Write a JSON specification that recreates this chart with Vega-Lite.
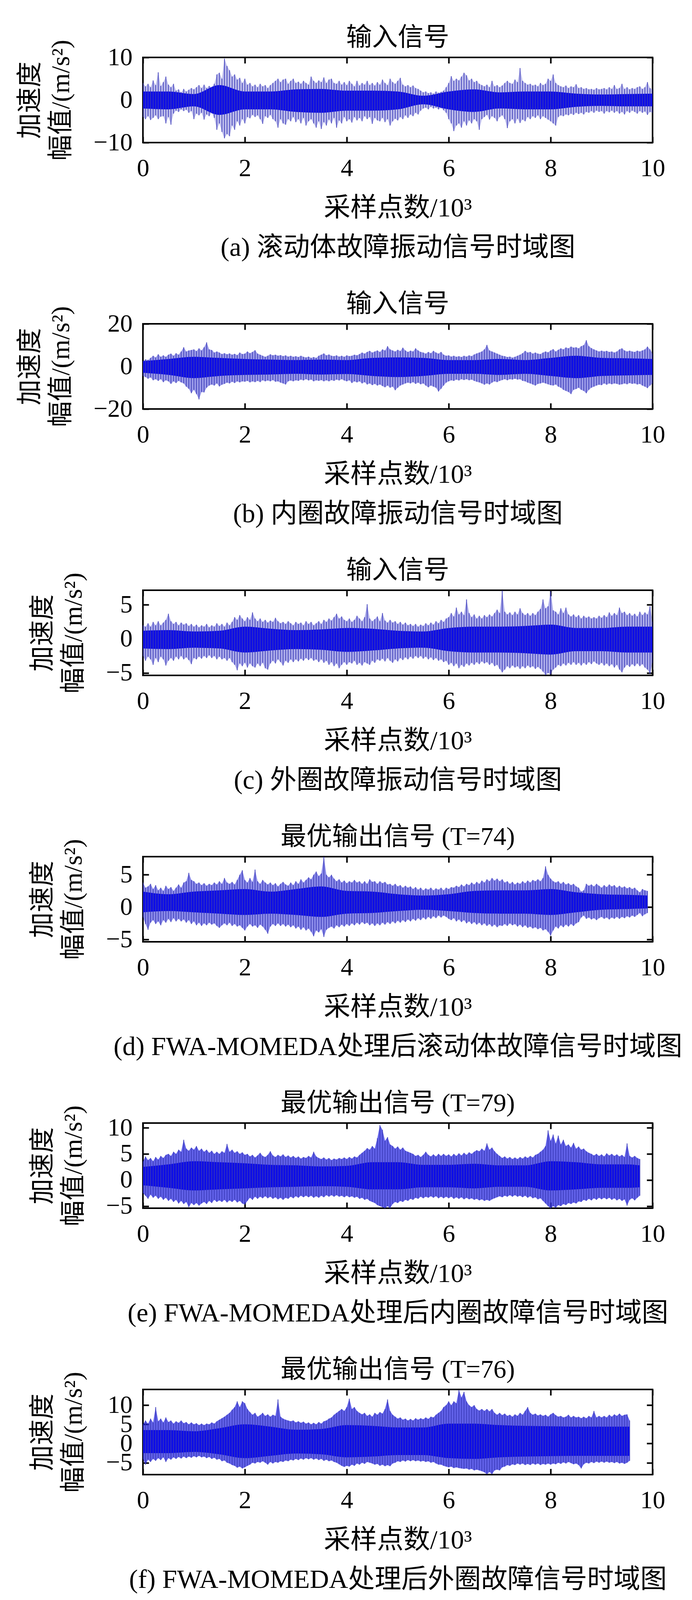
{
"$schema":"https://vega.github.io/schema/vega-lite/v6.json",
"padding":{"left":42,"top":62,"right":10,"bottom":0},
"spacing":74,
"datasets":{
"ea":[{"x":0.00,"a":-4.0,"b":4.0},{"x":0.05,"a":-4.5,"b":3.2},{"x":0.10,"a":-3.8,"b":3.8},{"x":0.15,"a":-4.7,"b":3.0},{"x":0.20,"a":-4.2,"b":4.6},{"x":0.25,"a":-3.6,"b":3.5},{"x":0.30,"a":-4.5,"b":6.5},{"x":0.35,"a":-3.9,"b":3.3},{"x":0.40,"a":-3.8,"b":4.2},{"x":0.45,"a":-5.5,"b":5.5},
{"x":0.50,"a":-4.0,"b":3.6},{"x":0.55,"a":-5.8,"b":3.0},{"x":0.60,"a":-3.2,"b":3.8},{"x":0.65,"a":-2.5,"b":2.2},{"x":0.70,"a":-2.8,"b":2.5},{"x":0.75,"a":-2.2,"b":1.8},{"x":0.80,"a":-2.6,"b":2.6},{"x":0.85,"a":-2.3,"b":2.0},{"x":0.90,"a":-3.0,"b":2.4},{"x":0.95,"a":-2.6,"b":2.8},
{"x":1.00,"a":-4.5,"b":2.5},{"x":1.05,"a":-3.2,"b":3.0},{"x":1.10,"a":-3.6,"b":3.5},{"x":1.15,"a":-3.0,"b":2.8},{"x":1.20,"a":-4.6,"b":3.6},{"x":1.25,"a":-3.4,"b":2.8},{"x":1.30,"a":-3.8,"b":3.3},{"x":1.35,"a":-3.0,"b":3.0},{"x":1.40,"a":-4.2,"b":3.8},{"x":1.45,"a":-7.0,"b":6.0},
{"x":1.50,"a":-5.5,"b":6.4},{"x":1.55,"a":-7.5,"b":5.0},{"x":1.60,"a":-9.0,"b":9.7},{"x":1.65,"a":-8.0,"b":8.0},{"x":1.70,"a":-8.5,"b":7.0},{"x":1.75,"a":-6.0,"b":5.5},{"x":1.80,"a":-7.0,"b":6.0},{"x":1.85,"a":-5.0,"b":4.8},{"x":1.90,"a":-6.0,"b":5.2},{"x":1.95,"a":-4.5,"b":4.0},
{"x":2.00,"a":-5.5,"b":5.0},{"x":2.05,"a":-4.0,"b":3.6},{"x":2.10,"a":-4.3,"b":4.0},{"x":2.15,"a":-3.5,"b":3.2},{"x":2.20,"a":-4.0,"b":3.6},{"x":2.25,"a":-3.6,"b":3.0},{"x":2.30,"a":-4.5,"b":3.8},{"x":2.35,"a":-5.6,"b":3.2},{"x":2.40,"a":-3.8,"b":3.5},{"x":2.45,"a":-4.2,"b":2.8},
{"x":2.50,"a":-3.5,"b":3.5},{"x":2.55,"a":-4.5,"b":4.0},{"x":2.60,"a":-5.0,"b":4.5},{"x":2.65,"a":-6.5,"b":5.0},{"x":2.70,"a":-4.5,"b":4.2},{"x":2.75,"a":-5.5,"b":4.8},{"x":2.80,"a":-5.8,"b":5.0},{"x":2.85,"a":-4.5,"b":3.8},{"x":2.90,"a":-5.0,"b":4.5},{"x":2.95,"a":-4.0,"b":5.0},
{"x":3.00,"a":-5.2,"b":4.0},{"x":3.05,"a":-4.5,"b":4.3},{"x":3.10,"a":-5.5,"b":3.8},{"x":3.15,"a":-4.2,"b":4.5},{"x":3.20,"a":-6.0,"b":4.0},{"x":3.25,"a":-5.0,"b":3.6},{"x":3.30,"a":-4.5,"b":5.5},{"x":3.35,"a":-5.5,"b":4.5},{"x":3.40,"a":-6.5,"b":4.0},{"x":3.45,"a":-5.0,"b":4.6},
{"x":3.50,"a":-6.8,"b":4.2},{"x":3.55,"a":-5.2,"b":5.3},{"x":3.60,"a":-6.0,"b":4.0},{"x":3.65,"a":-4.6,"b":4.8},{"x":3.70,"a":-5.5,"b":5.0},{"x":3.75,"a":-4.2,"b":4.0},{"x":3.80,"a":-6.5,"b":3.8},{"x":3.85,"a":-4.8,"b":4.5},{"x":3.90,"a":-5.5,"b":3.6},{"x":3.95,"a":-4.0,"b":4.2},
{"x":4.00,"a":-5.0,"b":3.5},{"x":4.05,"a":-4.5,"b":4.5},{"x":4.10,"a":-5.3,"b":3.8},{"x":4.15,"a":-4.0,"b":3.2},{"x":4.20,"a":-4.8,"b":4.5},{"x":4.25,"a":-4.2,"b":3.4},{"x":4.30,"a":-5.0,"b":4.0},{"x":4.35,"a":-3.8,"b":3.6},{"x":4.40,"a":-4.5,"b":4.5},{"x":4.45,"a":-4.0,"b":3.5},
{"x":4.50,"a":-5.6,"b":4.0},{"x":4.55,"a":-4.2,"b":3.4},{"x":4.60,"a":-4.8,"b":4.2},{"x":4.65,"a":-5.0,"b":3.6},{"x":4.70,"a":-4.2,"b":4.8},{"x":4.75,"a":-5.2,"b":4.0},{"x":4.80,"a":-4.5,"b":3.5},{"x":4.85,"a":-6.0,"b":5.0},{"x":4.90,"a":-5.0,"b":4.2},{"x":4.95,"a":-4.4,"b":3.8},
{"x":5.00,"a":-4.8,"b":4.5},{"x":5.05,"a":-4.0,"b":5.2},{"x":5.10,"a":-4.5,"b":3.6},{"x":5.15,"a":-3.6,"b":3.2},{"x":5.20,"a":-4.2,"b":3.5},{"x":5.25,"a":-3.4,"b":3.0},{"x":5.30,"a":-3.8,"b":3.4},{"x":5.35,"a":-3.0,"b":2.8},{"x":5.40,"a":-3.4,"b":2.6},{"x":5.45,"a":-2.5,"b":2.2},
{"x":5.50,"a":-2.0,"b":1.8},{"x":5.55,"a":-1.8,"b":2.0},{"x":5.60,"a":-2.2,"b":1.6},{"x":5.65,"a":-1.6,"b":1.8},{"x":5.70,"a":-2.0,"b":1.5},{"x":5.75,"a":-1.8,"b":2.0},{"x":5.80,"a":-2.2,"b":1.7},{"x":5.85,"a":-1.9,"b":1.9},{"x":5.90,"a":-2.4,"b":2.2},{"x":5.95,"a":-3.0,"b":3.0},
{"x":6.00,"a":-4.5,"b":4.0},{"x":6.05,"a":-5.5,"b":5.6},{"x":6.10,"a":-7.3,"b":4.5},{"x":6.15,"a":-6.0,"b":5.0},{"x":6.20,"a":-5.5,"b":4.6},{"x":6.25,"a":-6.5,"b":5.5},{"x":6.30,"a":-5.0,"b":6.4},{"x":6.35,"a":-6.0,"b":5.8},{"x":6.40,"a":-4.8,"b":4.6},{"x":6.45,"a":-5.5,"b":5.0},
{"x":6.50,"a":-4.5,"b":4.2},{"x":6.55,"a":-5.0,"b":4.5},{"x":6.60,"a":-7.0,"b":3.8},{"x":6.65,"a":-4.5,"b":3.5},{"x":6.70,"a":-4.0,"b":3.2},{"x":6.75,"a":-3.5,"b":3.6},{"x":6.80,"a":-4.6,"b":3.0},{"x":6.85,"a":-3.8,"b":4.5},{"x":6.90,"a":-4.2,"b":3.2},{"x":6.95,"a":-5.0,"b":3.5},
{"x":7.00,"a":-4.0,"b":3.0},{"x":7.05,"a":-3.6,"b":3.4},{"x":7.10,"a":-4.5,"b":4.0},{"x":7.15,"a":-6.6,"b":4.5},{"x":7.20,"a":-5.0,"b":4.0},{"x":7.25,"a":-4.5,"b":3.8},{"x":7.30,"a":-5.5,"b":4.8},{"x":7.35,"a":-4.4,"b":4.2},{"x":7.40,"a":-5.4,"b":7.5},{"x":7.45,"a":-4.6,"b":4.5},
{"x":7.50,"a":-5.0,"b":4.0},{"x":7.55,"a":-4.0,"b":3.6},{"x":7.60,"a":-4.5,"b":3.8},{"x":7.65,"a":-3.8,"b":3.4},{"x":7.70,"a":-4.2,"b":3.6},{"x":7.75,"a":-3.6,"b":3.2},{"x":7.80,"a":-4.5,"b":4.0},{"x":7.85,"a":-3.8,"b":3.5},{"x":7.90,"a":-4.2,"b":3.8},{"x":7.95,"a":-4.6,"b":5.0},
{"x":8.00,"a":-5.0,"b":4.5},{"x":8.05,"a":-5.5,"b":6.0},{"x":8.10,"a":-6.0,"b":4.0},{"x":8.15,"a":-4.0,"b":3.5},{"x":8.20,"a":-3.6,"b":3.2},{"x":8.25,"a":-3.8,"b":3.0},{"x":8.30,"a":-3.4,"b":3.4},{"x":8.35,"a":-3.6,"b":2.8},{"x":8.40,"a":-3.2,"b":3.2},{"x":8.45,"a":-3.5,"b":3.0},
{"x":8.50,"a":-3.0,"b":3.7},{"x":8.55,"a":-3.3,"b":2.8},{"x":8.60,"a":-3.0,"b":3.0},{"x":8.65,"a":-3.4,"b":2.6},{"x":8.70,"a":-2.8,"b":2.8},{"x":8.75,"a":-3.0,"b":2.5},{"x":8.80,"a":-2.6,"b":2.6},{"x":8.85,"a":-3.0,"b":2.4},{"x":8.90,"a":-2.5,"b":2.8},{"x":8.95,"a":-2.8,"b":2.5},
{"x":9.00,"a":-2.6,"b":2.6},{"x":9.05,"a":-3.2,"b":2.8},{"x":9.10,"a":-2.6,"b":2.5},{"x":9.15,"a":-2.9,"b":3.0},{"x":9.20,"a":-2.5,"b":2.6},{"x":9.25,"a":-3.0,"b":3.5},{"x":9.30,"a":-2.6,"b":2.6},{"x":9.35,"a":-3.2,"b":2.8},{"x":9.40,"a":-2.8,"b":3.8},{"x":9.45,"a":-3.4,"b":2.6},
{"x":9.50,"a":-2.6,"b":3.0},{"x":9.55,"a":-3.0,"b":2.5},{"x":9.60,"a":-2.5,"b":2.8},{"x":9.65,"a":-2.8,"b":2.6},{"x":9.70,"a":-3.2,"b":3.0},{"x":9.75,"a":-2.6,"b":3.2},{"x":9.80,"a":-3.0,"b":2.6},{"x":9.85,"a":-2.7,"b":3.0},{"x":9.90,"a":-3.5,"b":4.2},{"x":9.95,"a":-2.8,"b":2.8},{"x":10.00,"a":-3.0,"b":2.5}],
"ca":[{"x":0,"a":-2,"b":2},{"x":0.5,"a":-2.2,"b":2},{"x":1,"a":-1.5,"b":1.4},{"x":1.5,"a":-3.5,"b":3.5},{"x":2,"a":-2.2,"b":2},{"x":2.5,"a":-2.2,"b":2},{"x":3,"a":-2.8,"b":2.5},{"x":3.5,"a":-3,"b":2.6},{"x":4,"a":-2.5,"b":2.2},{"x":4.5,"a":-2.5,"b":2.2},{"x":5,"a":-2.2,"b":2},{"x":5.5,"a":-1,"b":1},{"x":6,"a":-2.2,"b":2},{"x":6.5,"a":-2.8,"b":2.5},{"x":7,"a":-2,"b":1.8},{"x":7.5,"a":-2.2,"b":2},{"x":8,"a":-2.2,"b":2},{"x":8.5,"a":-1.6,"b":1.5},{"x":9,"a":-1.4,"b":1.3},{"x":9.5,"a":-1.5,"b":1.4},{"x":10,"a":-1.5,"b":1.5}],
"eb":[{"x":0.00,"a":-4.5,"b":2.5},{"x":0.05,"a":-5.0,"b":3.3},{"x":0.10,"a":-5.8,"b":3.0},{"x":0.15,"a":-5.2,"b":4.0},{"x":0.20,"a":-6.5,"b":5.0},{"x":0.25,"a":-6.0,"b":4.2},{"x":0.30,"a":-6.8,"b":5.7},{"x":0.35,"a":-6.0,"b":4.5},{"x":0.40,"a":-7.4,"b":5.2},{"x":0.45,"a":-6.5,"b":4.5},
{"x":0.50,"a":-7.0,"b":5.5},{"x":0.55,"a":-8.2,"b":6.0},{"x":0.60,"a":-7.0,"b":5.0},{"x":0.65,"a":-7.8,"b":6.2},{"x":0.70,"a":-6.8,"b":5.5},{"x":0.75,"a":-7.5,"b":7.0},{"x":0.80,"a":-8.0,"b":9.0},{"x":0.85,"a":-9.5,"b":7.0},{"x":0.90,"a":-10.5,"b":7.5},{"x":0.95,"a":-12.6,"b":7.7},
{"x":1.00,"a":-11.0,"b":8.0},{"x":1.05,"a":-13.0,"b":7.2},{"x":1.10,"a":-15.5,"b":8.5},{"x":1.15,"a":-12.0,"b":7.5},{"x":1.20,"a":-12.2,"b":9.0},{"x":1.25,"a":-10.0,"b":11.3},{"x":1.30,"a":-9.0,"b":8.0},{"x":1.35,"a":-8.5,"b":7.7},{"x":1.40,"a":-9.0,"b":6.5},{"x":1.45,"a":-8.0,"b":7.0},
{"x":1.50,"a":-9.4,"b":6.5},{"x":1.55,"a":-8.6,"b":5.8},{"x":1.60,"a":-8.2,"b":6.2},{"x":1.65,"a":-7.6,"b":5.7},{"x":1.70,"a":-8.0,"b":6.1},{"x":1.75,"a":-7.2,"b":5.5},{"x":1.80,"a":-7.8,"b":5.9},{"x":1.85,"a":-7.0,"b":5.3},{"x":1.90,"a":-7.5,"b":6.5},{"x":1.95,"a":-7.0,"b":5.8},
{"x":2.00,"a":-7.2,"b":6.0},{"x":2.05,"a":-6.8,"b":7.0},{"x":2.10,"a":-7.5,"b":6.2},{"x":2.15,"a":-7.0,"b":6.8},{"x":2.20,"a":-7.4,"b":7.6},{"x":2.25,"a":-6.8,"b":6.0},{"x":2.30,"a":-7.4,"b":5.5},{"x":2.35,"a":-6.5,"b":5.0},{"x":2.40,"a":-7.0,"b":4.5},{"x":2.45,"a":-6.6,"b":5.0},
{"x":2.50,"a":-7.0,"b":5.7},{"x":2.55,"a":-6.4,"b":5.2},{"x":2.60,"a":-7.2,"b":5.5},{"x":2.65,"a":-7.0,"b":5.0},{"x":2.70,"a":-7.6,"b":5.3},{"x":2.75,"a":-8.0,"b":4.8},{"x":2.80,"a":-8.5,"b":5.2},{"x":2.85,"a":-7.0,"b":4.6},{"x":2.90,"a":-6.6,"b":5.0},{"x":2.95,"a":-7.0,"b":4.5},
{"x":3.00,"a":-6.5,"b":4.8},{"x":3.05,"a":-6.8,"b":4.4},{"x":3.10,"a":-6.2,"b":5.0},{"x":3.15,"a":-6.6,"b":4.5},{"x":3.20,"a":-6.0,"b":4.2},{"x":3.25,"a":-6.6,"b":4.6},{"x":3.30,"a":-6.2,"b":4.0},{"x":3.35,"a":-7.0,"b":4.4},{"x":3.40,"a":-6.5,"b":4.0},{"x":3.45,"a":-6.8,"b":5.0},
{"x":3.50,"a":-6.4,"b":5.5},{"x":3.55,"a":-7.0,"b":6.1},{"x":3.60,"a":-6.5,"b":5.2},{"x":3.65,"a":-7.0,"b":5.6},{"x":3.70,"a":-6.4,"b":5.0},{"x":3.75,"a":-6.8,"b":4.8},{"x":3.80,"a":-6.2,"b":5.2},{"x":3.85,"a":-6.6,"b":4.6},{"x":3.90,"a":-6.0,"b":5.0},{"x":3.95,"a":-6.6,"b":4.5},
{"x":4.00,"a":-7.0,"b":5.2},{"x":4.05,"a":-6.5,"b":4.8},{"x":4.10,"a":-7.8,"b":5.0},{"x":4.15,"a":-7.0,"b":5.5},{"x":4.20,"a":-7.5,"b":5.2},{"x":4.25,"a":-7.0,"b":5.8},{"x":4.30,"a":-8.0,"b":6.5},{"x":4.35,"a":-7.4,"b":6.0},{"x":4.40,"a":-8.5,"b":6.8},{"x":4.45,"a":-8.0,"b":7.3},
{"x":4.50,"a":-8.8,"b":6.5},{"x":4.55,"a":-8.2,"b":7.0},{"x":4.60,"a":-9.0,"b":7.5},{"x":4.65,"a":-8.5,"b":6.8},{"x":4.70,"a":-9.2,"b":8.0},{"x":4.75,"a":-9.8,"b":7.5},{"x":4.80,"a":-9.0,"b":9.5},{"x":4.85,"a":-10.0,"b":8.0},{"x":4.90,"a":-9.5,"b":7.5},{"x":4.95,"a":-11.2,"b":7.0},
{"x":5.00,"a":-10.0,"b":7.8},{"x":5.05,"a":-9.0,"b":7.2},{"x":5.10,"a":-8.5,"b":8.8},{"x":5.15,"a":-8.0,"b":7.5},{"x":5.20,"a":-7.6,"b":6.8},{"x":5.25,"a":-8.0,"b":7.4},{"x":5.30,"a":-7.4,"b":7.0},{"x":5.35,"a":-8.2,"b":8.5},{"x":5.40,"a":-7.6,"b":7.5},{"x":5.45,"a":-8.4,"b":6.8},
{"x":5.50,"a":-8.0,"b":6.5},{"x":5.55,"a":-9.0,"b":6.0},{"x":5.60,"a":-9.8,"b":6.8},{"x":5.65,"a":-9.0,"b":6.2},{"x":5.70,"a":-9.5,"b":7.3},{"x":5.75,"a":-10.0,"b":6.5},{"x":5.80,"a":-11.8,"b":6.0},{"x":5.85,"a":-10.5,"b":6.8},{"x":5.90,"a":-9.0,"b":5.5},{"x":5.95,"a":-7.6,"b":5.0},
{"x":6.00,"a":-7.0,"b":5.2},{"x":6.05,"a":-6.5,"b":4.6},{"x":6.10,"a":-6.8,"b":5.0},{"x":6.15,"a":-6.2,"b":4.5},{"x":6.20,"a":-6.6,"b":4.8},{"x":6.25,"a":-6.0,"b":4.4},{"x":6.30,"a":-6.4,"b":5.0},{"x":6.35,"a":-6.0,"b":4.6},{"x":6.40,"a":-6.5,"b":5.2},{"x":6.45,"a":-6.2,"b":4.8},
{"x":6.50,"a":-6.8,"b":5.6},{"x":6.55,"a":-7.2,"b":6.1},{"x":6.60,"a":-7.5,"b":6.5},{"x":6.65,"a":-8.0,"b":7.0},{"x":6.70,"a":-8.6,"b":8.0},{"x":6.75,"a":-8.0,"b":10.1},{"x":6.80,"a":-8.5,"b":7.5},{"x":6.85,"a":-7.6,"b":7.0},{"x":6.90,"a":-7.0,"b":6.5},{"x":6.95,"a":-7.4,"b":6.0},
{"x":7.00,"a":-6.8,"b":5.5},{"x":7.05,"a":-6.4,"b":5.0},{"x":7.10,"a":-6.0,"b":4.8},{"x":7.15,"a":-6.5,"b":4.4},{"x":7.20,"a":-6.0,"b":4.6},{"x":7.25,"a":-6.2,"b":4.1},{"x":7.30,"a":-5.8,"b":4.5},{"x":7.35,"a":-6.2,"b":5.0},{"x":7.40,"a":-6.0,"b":5.5},{"x":7.45,"a":-6.8,"b":6.2},
{"x":7.50,"a":-7.0,"b":7.3},{"x":7.55,"a":-7.6,"b":6.5},{"x":7.60,"a":-8.0,"b":6.8},{"x":7.65,"a":-8.5,"b":6.0},{"x":7.70,"a":-9.0,"b":6.5},{"x":7.75,"a":-8.2,"b":6.0},{"x":7.80,"a":-8.0,"b":5.8},{"x":7.85,"a":-7.6,"b":6.5},{"x":7.90,"a":-8.0,"b":7.0},{"x":7.95,"a":-8.4,"b":6.6},
{"x":8.00,"a":-8.8,"b":7.5},{"x":8.05,"a":-9.0,"b":8.1},{"x":8.10,"a":-8.5,"b":7.0},{"x":8.15,"a":-9.5,"b":7.8},{"x":8.20,"a":-10.0,"b":8.5},{"x":8.25,"a":-11.0,"b":8.0},{"x":8.30,"a":-11.5,"b":8.9},{"x":8.35,"a":-12.0,"b":8.5},{"x":8.40,"a":-13.0,"b":9.3},{"x":8.45,"a":-11.0,"b":8.8},
{"x":8.50,"a":-10.6,"b":9.0},{"x":8.55,"a":-10.0,"b":8.5},{"x":8.60,"a":-11.0,"b":9.5},{"x":8.65,"a":-11.5,"b":10.0},{"x":8.70,"a":-12.6,"b":12.3},{"x":8.75,"a":-11.0,"b":9.5},{"x":8.80,"a":-10.0,"b":8.6},{"x":8.85,"a":-9.5,"b":8.0},{"x":8.90,"a":-9.0,"b":7.5},{"x":8.95,"a":-8.6,"b":7.0},
{"x":9.00,"a":-8.8,"b":7.4},{"x":9.05,"a":-8.0,"b":7.0},{"x":9.10,"a":-8.6,"b":7.3},{"x":9.15,"a":-8.0,"b":6.8},{"x":9.20,"a":-8.4,"b":7.0},{"x":9.25,"a":-8.0,"b":6.5},{"x":9.30,"a":-8.2,"b":7.0},{"x":9.35,"a":-8.6,"b":8.0},{"x":9.40,"a":-8.4,"b":8.5},{"x":9.45,"a":-8.0,"b":7.5},
{"x":9.50,"a":-8.4,"b":7.0},{"x":9.55,"a":-7.8,"b":7.4},{"x":9.60,"a":-8.2,"b":7.0},{"x":9.65,"a":-8.0,"b":6.8},{"x":9.70,"a":-8.5,"b":7.4},{"x":9.75,"a":-8.2,"b":7.0},{"x":9.80,"a":-9.0,"b":7.5},{"x":9.85,"a":-9.5,"b":8.0},{"x":9.90,"a":-10.2,"b":9.3},{"x":9.95,"a":-9.0,"b":8.0},{"x":10.00,"a":-8.0,"b":6.0}],
"cb":[{"x":0,"a":-3,"b":2.5},{"x":0.5,"a":-4,"b":3.5},{"x":1,"a":-5.5,"b":4.5},{"x":1.5,"a":-4.5,"b":4},{"x":2,"a":-4,"b":3.5},{"x":2.5,"a":-3.8,"b":3.2},{"x":3,"a":-3.5,"b":3},{"x":3.5,"a":-3.8,"b":3.2},{"x":4,"a":-3.6,"b":3},{"x":4.5,"a":-4.5,"b":4},{"x":5,"a":-5,"b":4.2},{"x":5.5,"a":-4.5,"b":4},{"x":6,"a":-3.5,"b":3},{"x":6.5,"a":-3.5,"b":3},{"x":7,"a":-4,"b":3.5},{"x":7.5,"a":-3.5,"b":3},{"x":8,"a":-4.5,"b":4},{"x":8.5,"a":-5.5,"b":5},{"x":9,"a":-4.5,"b":4},{"x":9.5,"a":-4.2,"b":3.8},{"x":10,"a":-4,"b":3.5}],
"ec":[{"x":0.00,"a":-2.5,"b":2.0},{"x":0.05,"a":-3.2,"b":1.8},{"x":0.10,"a":-2.6,"b":2.3},{"x":0.15,"a":-3.0,"b":1.8},{"x":0.20,"a":-3.8,"b":2.5},{"x":0.25,"a":-2.8,"b":2.0},{"x":0.30,"a":-3.4,"b":2.6},{"x":0.35,"a":-2.6,"b":2.0},{"x":0.40,"a":-3.0,"b":2.4},{"x":0.45,"a":-3.9,"b":2.8},
{"x":0.50,"a":-3.2,"b":3.7},{"x":0.55,"a":-2.8,"b":2.6},{"x":0.60,"a":-3.2,"b":2.2},{"x":0.65,"a":-2.6,"b":2.5},{"x":0.70,"a":-3.0,"b":2.0},{"x":0.75,"a":-2.5,"b":2.4},{"x":0.80,"a":-3.0,"b":2.1},{"x":0.85,"a":-2.7,"b":2.3},{"x":0.90,"a":-3.1,"b":1.9},{"x":0.95,"a":-3.7,"b":2.2},
{"x":1.00,"a":-2.8,"b":1.8},{"x":1.05,"a":-3.0,"b":2.1},{"x":1.10,"a":-2.6,"b":1.7},{"x":1.15,"a":-2.9,"b":2.0},{"x":1.20,"a":-2.5,"b":1.8},{"x":1.25,"a":-2.8,"b":2.2},{"x":1.30,"a":-2.4,"b":1.7},{"x":1.35,"a":-2.8,"b":2.0},{"x":1.40,"a":-2.5,"b":1.8},{"x":1.45,"a":-3.0,"b":2.3},
{"x":1.50,"a":-2.6,"b":1.9},{"x":1.55,"a":-3.0,"b":2.2},{"x":1.60,"a":-2.8,"b":1.8},{"x":1.65,"a":-3.2,"b":2.4},{"x":1.70,"a":-2.8,"b":2.0},{"x":1.75,"a":-3.4,"b":2.5},{"x":1.80,"a":-3.8,"b":3.2},{"x":1.85,"a":-4.6,"b":2.8},{"x":1.90,"a":-3.6,"b":3.5},{"x":1.95,"a":-4.0,"b":3.0},
{"x":2.00,"a":-3.5,"b":2.6},{"x":2.05,"a":-4.2,"b":3.2},{"x":2.10,"a":-3.6,"b":2.8},{"x":2.15,"a":-4.0,"b":3.9},{"x":2.20,"a":-4.2,"b":3.0},{"x":2.25,"a":-3.6,"b":2.6},{"x":2.30,"a":-4.0,"b":3.0},{"x":2.35,"a":-3.5,"b":2.5},{"x":2.40,"a":-4.3,"b":2.8},{"x":2.45,"a":-4.5,"b":2.4},
{"x":2.50,"a":-3.6,"b":2.7},{"x":2.55,"a":-3.2,"b":2.5},{"x":2.60,"a":-3.6,"b":3.1},{"x":2.65,"a":-3.0,"b":2.6},{"x":2.70,"a":-3.4,"b":2.3},{"x":2.75,"a":-3.9,"b":2.5},{"x":2.80,"a":-3.2,"b":2.2},{"x":2.85,"a":-3.5,"b":2.6},{"x":2.90,"a":-3.0,"b":2.3},{"x":2.95,"a":-3.4,"b":2.0},
{"x":3.00,"a":-3.0,"b":2.5},{"x":3.05,"a":-3.3,"b":2.2},{"x":3.10,"a":-2.9,"b":2.4},{"x":3.15,"a":-3.2,"b":2.0},{"x":3.20,"a":-2.8,"b":2.6},{"x":3.25,"a":-3.1,"b":2.2},{"x":3.30,"a":-2.8,"b":2.5},{"x":3.35,"a":-3.2,"b":2.0},{"x":3.40,"a":-3.0,"b":2.3},{"x":3.45,"a":-3.4,"b":2.6},
{"x":3.50,"a":-3.0,"b":2.2},{"x":3.55,"a":-3.5,"b":2.8},{"x":3.60,"a":-3.2,"b":2.5},{"x":3.65,"a":-3.8,"b":3.0},{"x":3.70,"a":-3.4,"b":2.7},{"x":3.75,"a":-4.0,"b":3.2},{"x":3.80,"a":-3.6,"b":3.7},{"x":3.85,"a":-4.3,"b":3.0},{"x":3.90,"a":-3.8,"b":3.3},{"x":3.95,"a":-3.4,"b":2.8},
{"x":4.00,"a":-3.8,"b":2.6},{"x":4.05,"a":-3.4,"b":3.0},{"x":4.10,"a":-3.6,"b":2.5},{"x":4.15,"a":-3.2,"b":2.8},{"x":4.20,"a":-3.8,"b":3.4},{"x":4.25,"a":-3.5,"b":3.0},{"x":4.30,"a":-3.9,"b":2.6},{"x":4.35,"a":-3.4,"b":3.2},{"x":4.40,"a":-3.6,"b":5.1},{"x":4.45,"a":-3.8,"b":3.0},
{"x":4.50,"a":-3.2,"b":2.6},{"x":4.55,"a":-3.5,"b":2.9},{"x":4.60,"a":-3.0,"b":3.3},{"x":4.65,"a":-3.2,"b":2.6},{"x":4.70,"a":-2.9,"b":3.8},{"x":4.75,"a":-3.3,"b":2.7},{"x":4.80,"a":-2.8,"b":2.4},{"x":4.85,"a":-3.2,"b":2.8},{"x":4.90,"a":-3.5,"b":2.4},{"x":4.95,"a":-3.0,"b":2.6},
{"x":5.00,"a":-3.3,"b":2.2},{"x":5.05,"a":-2.8,"b":2.5},{"x":5.10,"a":-3.1,"b":2.1},{"x":5.15,"a":-2.7,"b":2.4},{"x":5.20,"a":-3.0,"b":2.0},{"x":5.25,"a":-2.6,"b":2.2},{"x":5.30,"a":-2.9,"b":1.9},{"x":5.35,"a":-2.5,"b":2.2},{"x":5.40,"a":-2.8,"b":1.8},{"x":5.45,"a":-2.5,"b":2.1},
{"x":5.50,"a":-2.9,"b":1.9},{"x":5.55,"a":-2.6,"b":2.3},{"x":5.60,"a":-3.0,"b":2.0},{"x":5.65,"a":-2.7,"b":2.4},{"x":5.70,"a":-3.1,"b":2.1},{"x":5.75,"a":-2.8,"b":2.6},{"x":5.80,"a":-3.2,"b":2.3},{"x":5.85,"a":-3.0,"b":2.8},{"x":5.90,"a":-3.4,"b":2.5},{"x":5.95,"a":-3.2,"b":3.0},
{"x":6.00,"a":-3.8,"b":3.2},{"x":6.05,"a":-3.5,"b":3.8},{"x":6.10,"a":-4.0,"b":3.3},{"x":6.15,"a":-3.6,"b":4.6},{"x":6.20,"a":-4.3,"b":3.6},{"x":6.25,"a":-3.8,"b":4.0},{"x":6.30,"a":-4.1,"b":3.5},{"x":6.35,"a":-3.6,"b":5.8},{"x":6.40,"a":-3.9,"b":3.8},{"x":6.45,"a":-3.5,"b":3.2},
{"x":6.50,"a":-3.8,"b":3.6},{"x":6.55,"a":-3.4,"b":3.0},{"x":6.60,"a":-3.7,"b":3.4},{"x":6.65,"a":-3.3,"b":3.0},{"x":6.70,"a":-3.6,"b":3.5},{"x":6.75,"a":-3.4,"b":3.2},{"x":6.80,"a":-3.8,"b":3.6},{"x":6.85,"a":-3.5,"b":3.3},{"x":6.90,"a":-4.0,"b":3.8},{"x":6.95,"a":-3.8,"b":4.3},
{"x":7.00,"a":-4.4,"b":3.8},{"x":7.05,"a":-4.9,"b":7.1},{"x":7.10,"a":-4.5,"b":4.0},{"x":7.15,"a":-4.0,"b":3.6},{"x":7.20,"a":-4.3,"b":3.9},{"x":7.25,"a":-3.9,"b":3.5},{"x":7.30,"a":-4.2,"b":4.0},{"x":7.35,"a":-4.0,"b":3.6},{"x":7.40,"a":-4.4,"b":4.5},{"x":7.45,"a":-4.0,"b":3.8},
{"x":7.50,"a":-4.3,"b":3.5},{"x":7.55,"a":-3.9,"b":3.8},{"x":7.60,"a":-4.2,"b":3.4},{"x":7.65,"a":-4.0,"b":3.8},{"x":7.70,"a":-4.4,"b":3.5},{"x":7.75,"a":-4.1,"b":4.0},{"x":7.80,"a":-4.4,"b":4.4},{"x":7.85,"a":-4.8,"b":5.8},{"x":7.90,"a":-5.3,"b":4.5},{"x":7.95,"a":-5.0,"b":4.8},
{"x":8.00,"a":-5.2,"b":7.0},{"x":8.05,"a":-4.5,"b":4.2},{"x":8.10,"a":-4.2,"b":4.0},{"x":8.15,"a":-3.8,"b":3.6},{"x":8.20,"a":-4.0,"b":4.5},{"x":8.25,"a":-3.6,"b":3.8},{"x":8.30,"a":-3.9,"b":4.6},{"x":8.35,"a":-3.5,"b":3.6},{"x":8.40,"a":-3.8,"b":3.3},{"x":8.45,"a":-3.4,"b":3.6},
{"x":8.50,"a":-3.8,"b":3.2},{"x":8.55,"a":-3.5,"b":3.5},{"x":8.60,"a":-3.9,"b":3.0},{"x":8.65,"a":-3.5,"b":3.4},{"x":8.70,"a":-3.8,"b":3.1},{"x":8.75,"a":-3.4,"b":3.3},{"x":8.80,"a":-3.7,"b":3.0},{"x":8.85,"a":-3.3,"b":3.2},{"x":8.90,"a":-3.6,"b":3.0},{"x":8.95,"a":-3.8,"b":3.4},
{"x":9.00,"a":-3.5,"b":3.1},{"x":9.05,"a":-3.9,"b":3.5},{"x":9.10,"a":-3.6,"b":3.2},{"x":9.15,"a":-4.0,"b":3.9},{"x":9.20,"a":-3.7,"b":3.4},{"x":9.25,"a":-4.2,"b":3.8},{"x":9.30,"a":-3.8,"b":3.5},{"x":9.35,"a":-4.5,"b":4.6},{"x":9.40,"a":-4.9,"b":3.8},{"x":9.45,"a":-4.2,"b":4.0},
{"x":9.50,"a":-3.8,"b":3.5},{"x":9.55,"a":-4.1,"b":3.8},{"x":9.60,"a":-3.7,"b":3.4},{"x":9.65,"a":-4.0,"b":3.7},{"x":9.70,"a":-3.6,"b":3.3},{"x":9.75,"a":-4.0,"b":4.0},{"x":9.80,"a":-3.7,"b":3.5},{"x":9.85,"a":-4.2,"b":3.9},{"x":9.90,"a":-4.5,"b":3.6},{"x":9.95,"a":-5.1,"b":4.8},{"x":10.00,"a":-3.5,"b":2.5}],
"cc":[{"x":0,"a":-1.4,"b":1.2},{"x":0.5,"a":-1.5,"b":1.3},{"x":1,"a":-1.3,"b":1.1},{"x":1.5,"a":-1.4,"b":1.2},{"x":2,"a":-2,"b":1.8},{"x":2.5,"a":-1.7,"b":1.5},{"x":3,"a":-1.5,"b":1.3},{"x":3.5,"a":-1.6,"b":1.4},{"x":4,"a":-1.9,"b":1.6},{"x":4.5,"a":-1.7,"b":1.5},{"x":5,"a":-1.4,"b":1.2},{"x":5.5,"a":-1.3,"b":1.1},{"x":6,"a":-1.8,"b":1.6},{"x":6.5,"a":-2,"b":1.8},{"x":7,"a":-2,"b":1.8},{"x":7.5,"a":-2.1,"b":1.9},{"x":8,"a":-2.3,"b":2.1},{"x":8.5,"a":-1.8,"b":1.6},{"x":9,"a":-1.8,"b":1.6},{"x":9.5,"a":-2,"b":1.8},{"x":10,"a":-2,"b":1.8}],
"ed":[{"x":0.00,"a":-1.5,"b":3.8},{"x":0.05,"a":-2.6,"b":3.0},{"x":0.10,"a":-3.5,"b":3.2},{"x":0.15,"a":-2.4,"b":3.6},{"x":0.20,"a":-2.0,"b":2.8},{"x":0.25,"a":-2.6,"b":3.4},{"x":0.30,"a":-2.2,"b":2.6},{"x":0.35,"a":-2.8,"b":3.0},{"x":0.40,"a":-2.0,"b":2.5},{"x":0.45,"a":-2.4,"b":3.3},
{"x":0.50,"a":-1.8,"b":2.8},{"x":0.55,"a":-2.3,"b":3.1},{"x":0.60,"a":-1.7,"b":2.5},{"x":0.65,"a":-2.2,"b":3.0},{"x":0.70,"a":-1.8,"b":3.5},{"x":0.75,"a":-2.2,"b":3.0},{"x":0.80,"a":-1.9,"b":3.8},{"x":0.85,"a":-2.4,"b":4.0},{"x":0.90,"a":-2.0,"b":5.3},{"x":0.95,"a":-2.6,"b":4.2},
{"x":1.00,"a":-2.2,"b":4.0},{"x":1.05,"a":-2.8,"b":3.6},{"x":1.10,"a":-2.4,"b":3.8},{"x":1.15,"a":-2.9,"b":3.4},{"x":1.20,"a":-2.5,"b":3.7},{"x":1.25,"a":-2.8,"b":3.3},{"x":1.30,"a":-2.4,"b":3.6},{"x":1.35,"a":-2.7,"b":3.4},{"x":1.40,"a":-2.5,"b":3.8},{"x":1.45,"a":-2.9,"b":3.5},
{"x":1.50,"a":-3.2,"b":4.0},{"x":1.55,"a":-2.8,"b":3.6},{"x":1.60,"a":-2.5,"b":4.5},{"x":1.65,"a":-2.8,"b":3.8},{"x":1.70,"a":-2.4,"b":3.6},{"x":1.75,"a":-2.9,"b":3.9},{"x":1.80,"a":-2.6,"b":3.5},{"x":1.85,"a":-3.0,"b":4.2},{"x":1.90,"a":-2.8,"b":5.0},{"x":1.95,"a":-3.2,"b":5.7},
{"x":2.00,"a":-3.6,"b":4.2},{"x":2.05,"a":-3.0,"b":3.8},{"x":2.10,"a":-2.6,"b":4.5},{"x":2.15,"a":-3.0,"b":3.9},{"x":2.20,"a":-2.8,"b":5.8},{"x":2.25,"a":-3.2,"b":4.0},{"x":2.30,"a":-2.7,"b":3.6},{"x":2.35,"a":-3.0,"b":4.2},{"x":2.40,"a":-3.5,"b":3.8},{"x":2.45,"a":-4.1,"b":3.5},
{"x":2.50,"a":-3.0,"b":3.8},{"x":2.55,"a":-2.6,"b":3.4},{"x":2.60,"a":-2.9,"b":3.7},{"x":2.65,"a":-2.5,"b":3.2},{"x":2.70,"a":-2.9,"b":3.6},{"x":2.75,"a":-2.6,"b":3.9},{"x":2.80,"a":-3.0,"b":3.5},{"x":2.85,"a":-2.7,"b":3.3},{"x":2.90,"a":-3.1,"b":3.8},{"x":2.95,"a":-2.8,"b":3.4},
{"x":3.00,"a":-3.3,"b":4.0},{"x":3.05,"a":-3.0,"b":3.6},{"x":3.10,"a":-3.5,"b":4.3},{"x":3.15,"a":-3.1,"b":3.8},{"x":3.20,"a":-3.6,"b":4.2},{"x":3.25,"a":-3.3,"b":4.6},{"x":3.30,"a":-3.8,"b":4.3},{"x":3.35,"a":-4.5,"b":5.0},{"x":3.40,"a":-3.6,"b":5.5},{"x":3.45,"a":-3.9,"b":4.8},
{"x":3.50,"a":-3.4,"b":5.2},{"x":3.55,"a":-4.6,"b":7.8},{"x":3.60,"a":-3.5,"b":5.0},{"x":3.65,"a":-3.2,"b":4.6},{"x":3.70,"a":-3.0,"b":5.0},{"x":3.75,"a":-3.3,"b":4.4},{"x":3.80,"a":-2.8,"b":4.0},{"x":3.85,"a":-3.1,"b":4.3},{"x":3.90,"a":-2.7,"b":3.8},{"x":3.95,"a":-3.0,"b":4.1},
{"x":4.00,"a":-2.6,"b":3.7},{"x":4.05,"a":-2.9,"b":4.0},{"x":4.10,"a":-2.5,"b":3.8},{"x":4.15,"a":-2.8,"b":4.2},{"x":4.20,"a":-2.4,"b":3.8},{"x":4.25,"a":-2.7,"b":4.0},{"x":4.30,"a":-2.3,"b":3.6},{"x":4.35,"a":-2.6,"b":4.0},{"x":4.40,"a":-2.4,"b":3.6},{"x":4.45,"a":-2.8,"b":4.3},
{"x":4.50,"a":-2.5,"b":3.9},{"x":4.55,"a":-2.9,"b":4.0},{"x":4.60,"a":-2.5,"b":3.6},{"x":4.65,"a":-2.8,"b":4.0},{"x":4.70,"a":-2.4,"b":3.7},{"x":4.75,"a":-2.7,"b":3.9},{"x":4.80,"a":-2.3,"b":3.5},{"x":4.85,"a":-2.6,"b":3.6},{"x":4.90,"a":-2.2,"b":3.3},{"x":4.95,"a":-2.5,"b":3.6},
{"x":5.00,"a":-2.1,"b":3.2},{"x":5.05,"a":-2.4,"b":3.4},{"x":5.10,"a":-2.0,"b":3.0},{"x":5.15,"a":-2.3,"b":3.3},{"x":5.20,"a":-1.9,"b":3.0},{"x":5.25,"a":-2.2,"b":3.2},{"x":5.30,"a":-1.8,"b":2.8},{"x":5.35,"a":-2.1,"b":3.1},{"x":5.40,"a":-1.7,"b":2.7},{"x":5.45,"a":-2.0,"b":3.0},
{"x":5.50,"a":-1.6,"b":2.6},{"x":5.55,"a":-1.9,"b":2.9},{"x":5.60,"a":-1.5,"b":2.7},{"x":5.65,"a":-1.8,"b":3.0},{"x":5.70,"a":-1.4,"b":2.6},{"x":5.75,"a":-1.7,"b":2.9},{"x":5.80,"a":-1.3,"b":2.7},{"x":5.85,"a":-1.6,"b":3.0},{"x":5.90,"a":-1.3,"b":2.6},{"x":5.95,"a":-1.5,"b":3.0},
{"x":6.00,"a":-1.8,"b":2.8},{"x":6.05,"a":-2.0,"b":3.1},{"x":6.10,"a":-1.7,"b":3.0},{"x":6.15,"a":-2.2,"b":3.3},{"x":6.20,"a":-1.9,"b":3.1},{"x":6.25,"a":-2.3,"b":3.5},{"x":6.30,"a":-2.0,"b":3.2},{"x":6.35,"a":-2.5,"b":3.6},{"x":6.40,"a":-2.2,"b":3.4},{"x":6.45,"a":-2.6,"b":3.8},
{"x":6.50,"a":-2.3,"b":3.5},{"x":6.55,"a":-2.7,"b":3.9},{"x":6.60,"a":-2.4,"b":3.6},{"x":6.65,"a":-2.8,"b":4.1},{"x":6.70,"a":-2.5,"b":3.8},{"x":6.75,"a":-2.9,"b":4.3},{"x":6.80,"a":-2.6,"b":4.0},{"x":6.85,"a":-3.0,"b":4.5},{"x":6.90,"a":-2.7,"b":4.1},{"x":6.95,"a":-3.1,"b":4.4},
{"x":7.00,"a":-2.8,"b":4.0},{"x":7.05,"a":-2.9,"b":4.3},{"x":7.10,"a":-2.6,"b":3.8},{"x":7.15,"a":-2.9,"b":4.0},{"x":7.20,"a":-2.5,"b":3.6},{"x":7.25,"a":-2.8,"b":3.9},{"x":7.30,"a":-2.6,"b":3.5},{"x":7.35,"a":-3.0,"b":3.8},{"x":7.40,"a":-2.7,"b":3.6},{"x":7.45,"a":-3.1,"b":4.0},
{"x":7.50,"a":-2.8,"b":3.7},{"x":7.55,"a":-3.2,"b":4.1},{"x":7.60,"a":-3.0,"b":3.8},{"x":7.65,"a":-3.3,"b":4.2},{"x":7.70,"a":-3.1,"b":4.0},{"x":7.75,"a":-3.4,"b":4.3},{"x":7.80,"a":-3.2,"b":4.0},{"x":7.85,"a":-3.6,"b":4.5},{"x":7.90,"a":-3.4,"b":6.3},{"x":7.95,"a":-3.8,"b":5.0},
{"x":8.00,"a":-4.4,"b":4.4},{"x":8.05,"a":-3.6,"b":4.0},{"x":8.10,"a":-3.0,"b":3.8},{"x":8.15,"a":-3.3,"b":4.0},{"x":8.20,"a":-2.8,"b":3.6},{"x":8.25,"a":-3.1,"b":3.9},{"x":8.30,"a":-2.7,"b":3.5},{"x":8.35,"a":-3.0,"b":3.7},{"x":8.40,"a":-2.6,"b":3.4},{"x":8.45,"a":-2.9,"b":3.6},
{"x":8.50,"a":-2.5,"b":3.2},{"x":8.55,"a":-2.3,"b":3.0},{"x":8.60,"a":-1.6,"b":2.4},{"x":8.65,"a":-1.3,"b":2.6},{"x":8.70,"a":-1.8,"b":3.6},{"x":8.75,"a":-1.6,"b":3.3},{"x":8.80,"a":-1.9,"b":3.5},{"x":8.85,"a":-1.7,"b":3.2},{"x":8.90,"a":-2.0,"b":3.6},{"x":8.95,"a":-1.7,"b":3.3},
{"x":9.00,"a":-1.5,"b":3.0},{"x":9.05,"a":-1.8,"b":3.4},{"x":9.10,"a":-1.6,"b":3.1},{"x":9.15,"a":-1.9,"b":3.5},{"x":9.20,"a":-1.6,"b":3.2},{"x":9.25,"a":-1.8,"b":3.4},{"x":9.30,"a":-1.5,"b":3.0},{"x":9.35,"a":-1.8,"b":3.3},{"x":9.40,"a":-1.5,"b":3.0},{"x":9.45,"a":-1.7,"b":3.2},
{"x":9.50,"a":-1.4,"b":2.9},{"x":9.55,"a":-1.6,"b":3.1},{"x":9.60,"a":-1.3,"b":2.8},{"x":9.65,"a":-1.5,"b":3.0},{"x":9.70,"a":-1.2,"b":2.6},{"x":9.75,"a":-0.9,"b":2.3},{"x":9.80,"a":-1.4,"b":2.8},{"x":9.85,"a":-1.1,"b":2.6},{"x":9.90,"a":-0.9,"b":2.5}],
"cd":[{"x":0,"a":-0.8,"b":2.4},{"x":0.5,"a":-0.6,"b":2.0},{"x":1,"a":-0.8,"b":2.4},{"x":1.5,"a":-1,"b":2.6},{"x":2,"a":-1.2,"b":2.8},{"x":2.5,"a":-1,"b":2.4},{"x":3,"a":-1.2,"b":2.8},{"x":3.5,"a":-1.5,"b":3.2},{"x":4,"a":-1,"b":2.5},{"x":4.5,"a":-0.9,"b":2.4},{"x":5,"a":-0.6,"b":2.0},{"x":5.5,"a":-0.4,"b":1.8},{"x":6,"a":-0.6,"b":2.0},{"x":6.5,"a":-0.9,"b":2.5},{"x":7,"a":-1,"b":2.6},{"x":7.5,"a":-1,"b":2.6},{"x":8,"a":-1.2,"b":2.8},{"x":8.5,"a":-0.8,"b":2.3},{"x":9,"a":-0.4,"b":2.0},{"x":9.5,"a":-0.3,"b":1.9},{"x":9.9,"a":-0.2,"b":1.8}],
"ee":[{"x":0.00,"a":-2.5,"b":3.5},{"x":0.05,"a":-3.0,"b":4.5},{"x":0.10,"a":-3.6,"b":3.8},{"x":0.15,"a":-2.8,"b":4.2},{"x":0.20,"a":-3.4,"b":3.6},{"x":0.25,"a":-3.0,"b":4.4},{"x":0.30,"a":-3.6,"b":3.9},{"x":0.35,"a":-3.2,"b":4.6},{"x":0.40,"a":-3.8,"b":4.2},{"x":0.45,"a":-3.4,"b":4.8},
{"x":0.50,"a":-4.0,"b":5.0},{"x":0.55,"a":-3.6,"b":4.6},{"x":0.60,"a":-4.2,"b":5.4},{"x":0.65,"a":-3.8,"b":5.0},{"x":0.70,"a":-4.5,"b":5.8},{"x":0.75,"a":-4.0,"b":5.4},{"x":0.80,"a":-4.6,"b":7.7},{"x":0.85,"a":-4.2,"b":6.0},{"x":0.90,"a":-5.2,"b":5.6},{"x":0.95,"a":-4.4,"b":6.2},
{"x":1.00,"a":-4.8,"b":5.8},{"x":1.05,"a":-4.4,"b":6.5},{"x":1.10,"a":-4.9,"b":5.6},{"x":1.15,"a":-4.5,"b":6.0},{"x":1.20,"a":-4.2,"b":5.4},{"x":1.25,"a":-4.6,"b":5.8},{"x":1.30,"a":-4.0,"b":5.2},{"x":1.35,"a":-4.4,"b":5.6},{"x":1.40,"a":-3.8,"b":5.0},{"x":1.45,"a":-4.2,"b":5.4},
{"x":1.50,"a":-3.9,"b":5.0},{"x":1.55,"a":-4.2,"b":5.5},{"x":1.60,"a":-3.8,"b":5.2},{"x":1.65,"a":-4.3,"b":6.9},{"x":1.70,"a":-3.9,"b":5.4},{"x":1.75,"a":-4.2,"b":5.8},{"x":1.80,"a":-3.8,"b":5.2},{"x":1.85,"a":-4.3,"b":5.5},{"x":1.90,"a":-4.0,"b":5.0},{"x":1.95,"a":-4.5,"b":5.3},
{"x":2.00,"a":-4.7,"b":4.8},{"x":2.05,"a":-4.0,"b":5.0},{"x":2.10,"a":-3.4,"b":4.5},{"x":2.15,"a":-3.8,"b":4.8},{"x":2.20,"a":-3.2,"b":4.3},{"x":2.25,"a":-3.6,"b":4.7},{"x":2.30,"a":-3.2,"b":5.2},{"x":2.35,"a":-3.5,"b":4.6},{"x":2.40,"a":-3.1,"b":4.4},{"x":2.45,"a":-3.5,"b":4.8},
{"x":2.50,"a":-3.2,"b":5.5},{"x":2.55,"a":-3.6,"b":4.7},{"x":2.60,"a":-3.3,"b":4.4},{"x":2.65,"a":-3.7,"b":4.8},{"x":2.70,"a":-3.4,"b":4.5},{"x":2.75,"a":-3.8,"b":4.9},{"x":2.80,"a":-3.4,"b":4.4},{"x":2.85,"a":-3.6,"b":4.7},{"x":2.90,"a":-3.2,"b":4.3},{"x":2.95,"a":-3.5,"b":4.6},
{"x":3.00,"a":-3.1,"b":4.2},{"x":3.05,"a":-3.4,"b":4.5},{"x":3.10,"a":-3.0,"b":4.1},{"x":3.15,"a":-3.3,"b":4.4},{"x":3.20,"a":-3.0,"b":4.2},{"x":3.25,"a":-3.3,"b":4.6},{"x":3.30,"a":-3.0,"b":4.3},{"x":3.35,"a":-3.4,"b":5.4},{"x":3.40,"a":-3.1,"b":4.5},{"x":3.45,"a":-3.4,"b":4.2},
{"x":3.50,"a":-3.0,"b":4.0},{"x":3.55,"a":-3.3,"b":4.3},{"x":3.60,"a":-2.9,"b":3.9},{"x":3.65,"a":-3.2,"b":4.2},{"x":3.70,"a":-2.9,"b":3.8},{"x":3.75,"a":-3.2,"b":4.1},{"x":3.80,"a":-2.9,"b":3.9},{"x":3.85,"a":-3.2,"b":4.2},{"x":3.90,"a":-3.0,"b":4.0},{"x":3.95,"a":-3.3,"b":4.3},
{"x":4.00,"a":-3.0,"b":4.0},{"x":4.05,"a":-3.3,"b":4.4},{"x":4.10,"a":-3.1,"b":4.1},{"x":4.15,"a":-3.4,"b":4.5},{"x":4.20,"a":-3.2,"b":4.3},{"x":4.25,"a":-3.6,"b":4.8},{"x":4.30,"a":-3.4,"b":5.2},{"x":4.35,"a":-3.8,"b":5.6},{"x":4.40,"a":-3.6,"b":6.1},{"x":4.45,"a":-4.0,"b":5.8},
{"x":4.50,"a":-4.2,"b":6.5},{"x":4.55,"a":-4.4,"b":6.0},{"x":4.60,"a":-4.8,"b":8.0},{"x":4.65,"a":-5.0,"b":10.5},{"x":4.70,"a":-5.2,"b":9.6},{"x":4.75,"a":-5.4,"b":7.5},{"x":4.80,"a":-5.0,"b":8.2},{"x":4.85,"a":-5.4,"b":6.8},{"x":4.90,"a":-4.6,"b":6.5},{"x":4.95,"a":-4.2,"b":6.0},
{"x":5.00,"a":-4.4,"b":6.4},{"x":5.05,"a":-4.0,"b":5.8},{"x":5.10,"a":-4.2,"b":6.2},{"x":5.15,"a":-3.8,"b":5.6},{"x":5.20,"a":-4.0,"b":5.4},{"x":5.25,"a":-3.6,"b":5.2},{"x":5.30,"a":-3.8,"b":5.0},{"x":5.35,"a":-3.4,"b":4.6},{"x":5.40,"a":-3.6,"b":4.8},{"x":5.45,"a":-3.2,"b":4.4},
{"x":5.50,"a":-3.5,"b":4.8},{"x":5.55,"a":-3.2,"b":5.4},{"x":5.60,"a":-3.4,"b":4.8},{"x":5.65,"a":-3.1,"b":4.5},{"x":5.70,"a":-3.4,"b":4.9},{"x":5.75,"a":-3.1,"b":4.5},{"x":5.80,"a":-3.5,"b":5.0},{"x":5.85,"a":-3.2,"b":4.6},{"x":5.90,"a":-3.5,"b":5.0},{"x":5.95,"a":-3.2,"b":4.6},
{"x":6.00,"a":-3.5,"b":4.9},{"x":6.05,"a":-3.2,"b":4.5},{"x":6.10,"a":-3.6,"b":5.0},{"x":6.15,"a":-3.3,"b":4.6},{"x":6.20,"a":-3.6,"b":5.1},{"x":6.25,"a":-3.3,"b":4.7},{"x":6.30,"a":-3.7,"b":5.2},{"x":6.35,"a":-3.4,"b":4.8},{"x":6.40,"a":-3.7,"b":5.3},{"x":6.45,"a":-3.5,"b":5.0},
{"x":6.50,"a":-3.8,"b":5.4},{"x":6.55,"a":-3.6,"b":5.7},{"x":6.60,"a":-3.9,"b":5.5},{"x":6.65,"a":-3.7,"b":6.0},{"x":6.70,"a":-4.0,"b":5.6},{"x":6.75,"a":-3.8,"b":7.0},{"x":6.80,"a":-4.0,"b":5.8},{"x":6.85,"a":-3.7,"b":6.2},{"x":6.90,"a":-3.5,"b":5.5},{"x":6.95,"a":-3.3,"b":5.0},
{"x":7.00,"a":-3.1,"b":4.6},{"x":7.05,"a":-3.3,"b":4.2},{"x":7.10,"a":-3.0,"b":4.5},{"x":7.15,"a":-3.2,"b":4.1},{"x":7.20,"a":-2.9,"b":4.4},{"x":7.25,"a":-3.2,"b":4.0},{"x":7.30,"a":-2.9,"b":4.3},{"x":7.35,"a":-3.2,"b":4.0},{"x":7.40,"a":-3.0,"b":4.4},{"x":7.45,"a":-3.3,"b":4.1},
{"x":7.50,"a":-3.0,"b":4.5},{"x":7.55,"a":-3.4,"b":4.2},{"x":7.60,"a":-3.1,"b":4.6},{"x":7.65,"a":-3.5,"b":4.3},{"x":7.70,"a":-3.3,"b":4.8},{"x":7.75,"a":-3.7,"b":5.0},{"x":7.80,"a":-3.5,"b":5.4},{"x":7.85,"a":-4.0,"b":5.8},{"x":7.90,"a":-4.5,"b":6.5},{"x":7.95,"a":-5.0,"b":9.5},
{"x":8.00,"a":-5.4,"b":7.5},{"x":8.05,"a":-5.0,"b":8.7},{"x":8.10,"a":-5.3,"b":7.0},{"x":8.15,"a":-4.8,"b":8.5},{"x":8.20,"a":-5.0,"b":6.8},{"x":8.25,"a":-4.6,"b":7.7},{"x":8.30,"a":-4.8,"b":6.5},{"x":8.35,"a":-4.4,"b":6.8},{"x":8.40,"a":-4.6,"b":6.2},{"x":8.45,"a":-4.3,"b":7.1},
{"x":8.50,"a":-4.5,"b":6.0},{"x":8.55,"a":-4.1,"b":6.4},{"x":8.60,"a":-4.2,"b":5.8},{"x":8.65,"a":-3.8,"b":6.0},{"x":8.70,"a":-4.0,"b":5.5},{"x":8.75,"a":-3.6,"b":5.2},{"x":8.80,"a":-3.9,"b":5.0},{"x":8.85,"a":-3.5,"b":4.7},{"x":8.90,"a":-3.8,"b":5.0},{"x":8.95,"a":-3.4,"b":4.6},
{"x":9.00,"a":-3.7,"b":4.9},{"x":9.05,"a":-3.4,"b":4.5},{"x":9.10,"a":-3.7,"b":5.1},{"x":9.15,"a":-3.4,"b":4.7},{"x":9.20,"a":-3.8,"b":5.0},{"x":9.25,"a":-3.5,"b":4.6},{"x":9.30,"a":-3.9,"b":4.9},{"x":9.35,"a":-3.6,"b":4.5},{"x":9.40,"a":-4.0,"b":4.8},{"x":9.45,"a":-3.7,"b":4.4},
{"x":9.50,"a":-4.9,"b":7.0},{"x":9.55,"a":-3.8,"b":4.6},{"x":9.60,"a":-3.5,"b":4.3},{"x":9.65,"a":-3.9,"b":4.6},{"x":9.70,"a":-3.4,"b":4.2},{"x":9.75,"a":-3.0,"b":4.0}],
"ce":[{"x":0,"a":-1,"b":2.5},{"x":0.5,"a":-1.5,"b":3},{"x":1,"a":-2,"b":3.6},{"x":1.5,"a":-1.8,"b":3.4},{"x":2,"a":-1.6,"b":3.2},{"x":2.5,"a":-1.4,"b":2.9},{"x":3,"a":-1.3,"b":2.8},{"x":3.5,"a":-1.2,"b":2.6},{"x":4,"a":-1.3,"b":2.7},{"x":4.5,"a":-1.8,"b":3.4},{"x":5,"a":-1.8,"b":3.4},{"x":5.5,"a":-1.4,"b":2.9},{"x":6,"a":-1.4,"b":2.9},{"x":6.5,"a":-1.6,"b":3.1},{"x":7,"a":-1.3,"b":2.8},{"x":7.5,"a":-1.3,"b":2.8},{"x":8,"a":-2,"b":3.6},{"x":8.5,"a":-1.8,"b":3.4},{"x":9,"a":-1.5,"b":3},{"x":9.5,"a":-1.5,"b":3},{"x":9.75,"a":-1.4,"b":2.8}],
"ef":[{"x":0.00,"a":-4.0,"b":5.0},{"x":0.05,"a":-5.5,"b":6.0},{"x":0.10,"a":-4.2,"b":5.2},{"x":0.15,"a":-4.8,"b":6.5},{"x":0.20,"a":-4.0,"b":5.5},{"x":0.25,"a":-4.5,"b":9.5},{"x":0.30,"a":-3.8,"b":5.8},{"x":0.35,"a":-4.3,"b":6.5},{"x":0.40,"a":-3.6,"b":5.5},{"x":0.45,"a":-4.8,"b":6.8},
{"x":0.50,"a":-3.8,"b":5.6},{"x":0.55,"a":-4.2,"b":6.0},{"x":0.60,"a":-3.6,"b":5.2},{"x":0.65,"a":-4.0,"b":5.8},{"x":0.70,"a":-3.5,"b":5.4},{"x":0.75,"a":-3.9,"b":6.0},{"x":0.80,"a":-3.4,"b":5.3},{"x":0.85,"a":-3.8,"b":5.6},{"x":0.90,"a":-3.4,"b":5.0},{"x":0.95,"a":-3.7,"b":5.5},
{"x":1.00,"a":-3.3,"b":5.0},{"x":1.05,"a":-3.6,"b":5.3},{"x":1.10,"a":-3.2,"b":4.8},{"x":1.15,"a":-3.6,"b":5.2},{"x":1.20,"a":-3.4,"b":4.8},{"x":1.25,"a":-3.8,"b":5.2},{"x":1.30,"a":-3.5,"b":5.0},{"x":1.35,"a":-4.0,"b":5.5},{"x":1.40,"a":-3.7,"b":5.2},{"x":1.45,"a":-4.2,"b":5.8},
{"x":1.50,"a":-4.0,"b":6.2},{"x":1.55,"a":-4.6,"b":6.6},{"x":1.60,"a":-4.4,"b":7.0},{"x":1.65,"a":-5.0,"b":7.5},{"x":1.70,"a":-5.2,"b":8.0},{"x":1.75,"a":-5.6,"b":8.8},{"x":1.80,"a":-5.8,"b":9.5},{"x":1.85,"a":-6.3,"b":11.0},{"x":1.90,"a":-6.0,"b":9.5},{"x":1.95,"a":-6.5,"b":11.0},
{"x":2.00,"a":-6.2,"b":10.5},{"x":2.05,"a":-5.8,"b":9.0},{"x":2.10,"a":-5.5,"b":8.2},{"x":2.15,"a":-5.0,"b":7.5},{"x":2.20,"a":-5.2,"b":8.0},{"x":2.25,"a":-4.8,"b":7.0},{"x":2.30,"a":-5.0,"b":7.4},{"x":2.35,"a":-4.6,"b":8.0},{"x":2.40,"a":-5.0,"b":7.2},{"x":2.45,"a":-5.5,"b":7.6},
{"x":2.50,"a":-4.8,"b":7.0},{"x":2.55,"a":-5.2,"b":7.5},{"x":2.60,"a":-4.8,"b":7.2},{"x":2.65,"a":-5.0,"b":11.5},{"x":2.70,"a":-4.6,"b":7.0},{"x":2.75,"a":-4.8,"b":6.5},{"x":2.80,"a":-4.4,"b":6.2},{"x":2.85,"a":-4.6,"b":6.0},{"x":2.90,"a":-4.2,"b":5.8},{"x":2.95,"a":-4.4,"b":6.0},
{"x":3.00,"a":-4.0,"b":5.5},{"x":3.05,"a":-4.3,"b":5.8},{"x":3.10,"a":-3.9,"b":5.4},{"x":3.15,"a":-4.2,"b":5.7},{"x":3.20,"a":-3.8,"b":5.2},{"x":3.25,"a":-4.1,"b":5.5},{"x":3.30,"a":-3.8,"b":5.0},{"x":3.35,"a":-4.2,"b":5.4},{"x":3.40,"a":-3.9,"b":5.0},{"x":3.45,"a":-4.3,"b":5.6},
{"x":3.50,"a":-4.0,"b":5.2},{"x":3.55,"a":-4.5,"b":5.8},{"x":3.60,"a":-4.2,"b":6.0},{"x":3.65,"a":-4.6,"b":6.5},{"x":3.70,"a":-4.4,"b":6.8},{"x":3.75,"a":-4.8,"b":7.5},{"x":3.80,"a":-5.0,"b":8.0},{"x":3.85,"a":-5.4,"b":8.5},{"x":3.90,"a":-5.8,"b":9.0},{"x":3.95,"a":-6.1,"b":8.5},
{"x":4.00,"a":-5.8,"b":9.5},{"x":4.05,"a":-6.0,"b":11.7},{"x":4.10,"a":-5.5,"b":9.0},{"x":4.15,"a":-5.8,"b":9.5},{"x":4.20,"a":-5.2,"b":8.5},{"x":4.25,"a":-5.5,"b":8.0},{"x":4.30,"a":-5.0,"b":7.6},{"x":4.35,"a":-5.3,"b":8.0},{"x":4.40,"a":-4.8,"b":7.2},{"x":4.45,"a":-5.0,"b":7.6},
{"x":4.50,"a":-5.2,"b":7.0},{"x":4.55,"a":-5.5,"b":8.0},{"x":4.60,"a":-5.3,"b":7.5},{"x":4.65,"a":-5.8,"b":8.2},{"x":4.70,"a":-5.5,"b":7.8},{"x":4.75,"a":-5.9,"b":9.0},{"x":4.80,"a":-5.6,"b":11.5},{"x":4.85,"a":-5.9,"b":8.5},{"x":4.90,"a":-5.2,"b":7.5},{"x":4.95,"a":-5.0,"b":7.0},
{"x":5.00,"a":-4.6,"b":6.5},{"x":5.05,"a":-4.8,"b":6.8},{"x":5.10,"a":-4.4,"b":6.2},{"x":5.15,"a":-4.7,"b":6.5},{"x":5.20,"a":-4.3,"b":6.0},{"x":5.25,"a":-4.6,"b":6.4},{"x":5.30,"a":-4.3,"b":6.0},{"x":5.35,"a":-4.6,"b":6.6},{"x":5.40,"a":-4.4,"b":6.2},{"x":5.45,"a":-4.7,"b":6.6},
{"x":5.50,"a":-4.5,"b":6.3},{"x":5.55,"a":-4.8,"b":6.8},{"x":5.60,"a":-4.6,"b":6.4},{"x":5.65,"a":-5.0,"b":7.0},{"x":5.70,"a":-4.8,"b":6.8},{"x":5.75,"a":-5.2,"b":7.5},{"x":5.80,"a":-5.5,"b":8.0},{"x":5.85,"a":-5.5,"b":8.5},{"x":5.90,"a":-5.8,"b":9.5},{"x":5.95,"a":-6.0,"b":10.0},
{"x":6.00,"a":-6.2,"b":11.0},{"x":6.05,"a":-6.0,"b":10.0},{"x":6.10,"a":-6.4,"b":11.0},{"x":6.15,"a":-6.2,"b":10.5},{"x":6.20,"a":-6.4,"b":14.0},{"x":6.25,"a":-6.5,"b":12.0},{"x":6.30,"a":-6.6,"b":13.5},{"x":6.35,"a":-6.5,"b":11.0},{"x":6.40,"a":-6.8,"b":10.0},{"x":6.45,"a":-6.6,"b":9.5},
{"x":6.50,"a":-7.0,"b":10.0},{"x":6.55,"a":-6.8,"b":9.0},{"x":6.60,"a":-7.0,"b":8.6},{"x":6.65,"a":-7.2,"b":9.0},{"x":6.70,"a":-7.5,"b":8.5},{"x":6.75,"a":-8.0,"b":9.0},{"x":6.80,"a":-7.4,"b":8.4},{"x":6.85,"a":-8.0,"b":9.0},{"x":6.90,"a":-7.0,"b":8.0},{"x":6.95,"a":-6.8,"b":7.5},
{"x":7.00,"a":-7.0,"b":8.0},{"x":7.05,"a":-6.2,"b":7.4},{"x":7.10,"a":-6.0,"b":7.8},{"x":7.15,"a":-5.6,"b":7.2},{"x":7.20,"a":-5.8,"b":7.5},{"x":7.25,"a":-5.4,"b":7.0},{"x":7.30,"a":-5.6,"b":7.6},{"x":7.35,"a":-5.2,"b":7.2},{"x":7.40,"a":-5.5,"b":8.0},{"x":7.45,"a":-5.2,"b":7.5},
{"x":7.50,"a":-5.6,"b":8.5},{"x":7.55,"a":-5.3,"b":9.5},{"x":7.60,"a":-5.6,"b":8.0},{"x":7.65,"a":-5.2,"b":7.5},{"x":7.70,"a":-5.5,"b":7.8},{"x":7.75,"a":-5.2,"b":7.3},{"x":7.80,"a":-5.6,"b":7.6},{"x":7.85,"a":-5.3,"b":7.2},{"x":7.90,"a":-5.5,"b":7.5},{"x":7.95,"a":-5.2,"b":7.0},
{"x":8.00,"a":-5.5,"b":7.6},{"x":8.05,"a":-5.2,"b":8.0},{"x":8.10,"a":-5.4,"b":7.4},{"x":8.15,"a":-5.0,"b":7.0},{"x":8.20,"a":-5.3,"b":7.2},{"x":8.25,"a":-4.9,"b":6.8},{"x":8.30,"a":-5.2,"b":7.0},{"x":8.35,"a":-4.8,"b":7.5},{"x":8.40,"a":-5.1,"b":6.8},{"x":8.45,"a":-5.4,"b":7.2},
{"x":8.50,"a":-5.2,"b":6.8},{"x":8.55,"a":-5.6,"b":7.0},{"x":8.60,"a":-6.5,"b":6.6},{"x":8.65,"a":-5.4,"b":7.0},{"x":8.70,"a":-5.0,"b":6.6},{"x":8.75,"a":-5.2,"b":7.2},{"x":8.80,"a":-4.8,"b":6.8},{"x":8.85,"a":-5.1,"b":8.5},{"x":8.90,"a":-4.7,"b":6.8},{"x":8.95,"a":-5.0,"b":7.2},
{"x":9.00,"a":-4.7,"b":6.8},{"x":9.05,"a":-5.0,"b":7.2},{"x":9.10,"a":-4.7,"b":6.8},{"x":9.15,"a":-5.0,"b":7.5},{"x":9.20,"a":-4.8,"b":7.0},{"x":9.25,"a":-5.1,"b":7.6},{"x":9.30,"a":-4.8,"b":7.2},{"x":9.35,"a":-5.2,"b":7.8},{"x":9.40,"a":-5.0,"b":7.2},{"x":9.45,"a":-5.3,"b":7.5},
{"x":9.50,"a":-5.0,"b":7.6},{"x":9.55,"a":-4.5,"b":6.0}],
"cf":[{"x":0,"a":-2.5,"b":3.5},{"x":0.5,"a":-2.5,"b":3.5},{"x":1,"a":-2.2,"b":3.2},{"x":1.5,"a":-2.8,"b":4},{"x":2,"a":-3.8,"b":5},{"x":2.5,"a":-3.2,"b":4.4},{"x":3,"a":-2.6,"b":3.6},{"x":3.5,"a":-2.8,"b":3.8},{"x":4,"a":-3.6,"b":4.8},{"x":4.5,"a":-3.4,"b":4.6},{"x":5,"a":-3,"b":4.2},{"x":5.5,"a":-3,"b":4.2},{"x":6,"a":-3.8,"b":5.2},{"x":6.5,"a":-4,"b":5.2},{"x":7,"a":-3.6,"b":4.8},{"x":7.5,"a":-3.4,"b":4.6},{"x":8,"a":-3.3,"b":4.5},{"x":8.5,"a":-3.2,"b":4.4},{"x":9,"a":-3.2,"b":4.4},{"x":9.55,"a":-3.2,"b":4.4}]
},
"vconcat":[
{"width":1305,"height":218,"title":"输入信号",
 "layer":[
  {"data":{"name":"ea"},"mark":{"type":"area","color":"#4a4acc","opacity":0.35,"clip":true},
   "encoding":{"x":{"field":"x","type":"quantitative","scale":{"domain":[0,10],"nice":false,"zero":false},"axis":{"orient":"bottom","values":[0,2,4,6,8,10],"title":["采样点数/10³","(a) 滚动体故障振动信号时域图"]}},
    "y":{"field":"a","type":"quantitative","scale":{"domain":[-10,10],"nice":false,"zero":false},"axis":{"orient":"left","values":[-10,0,10],"titleLineHeight":79,"title":["加速度","幅值/(m/s²)"]}},"y2":{"field":"b"}}},
  {"data":{"name":"ca"},"mark":{"type":"area","color":"#0c0ce8","interpolate":"monotone","clip":true},
   "encoding":{"x":{"field":"x","type":"quantitative","axis":null},"y":{"field":"a","type":"quantitative","axis":null},"y2":{"field":"b"}}},
  {"data":{"name":"ea"},"mark":{"type":"rule","color":"#3a3ab8","strokeWidth":2.2,"opacity":0.85,"clip":true},
   "encoding":{"x":{"field":"x","type":"quantitative","axis":{"orient":"top","labels":false,"title":null,"values":[0,2,4,6,8,10]}},
    "y":{"field":"a","type":"quantitative","axis":{"orient":"right","labels":false,"title":null,"values":[-10,0,10]}},"y2":{"field":"b"}}}
 ],
 "resolve":{"axis":{"x":"independent","y":"independent"}}},
{"width":1305,"height":218,"title":"输入信号",
 "layer":[
  {"data":{"name":"eb"},"mark":{"type":"area","color":"#3a3ad4","opacity":0.5,"clip":true},
   "encoding":{"x":{"field":"x","type":"quantitative","scale":{"domain":[0,10],"nice":false,"zero":false},"axis":{"orient":"bottom","values":[0,2,4,6,8,10],"title":["采样点数/10³","(b) 内圈故障振动信号时域图"]}},
    "y":{"field":"a","type":"quantitative","scale":{"domain":[-20,20],"nice":false,"zero":false},"axis":{"orient":"left","values":[-20,0,20],"titleLineHeight":79,"title":["加速度","幅值/(m/s²)"]}},"y2":{"field":"b"}}},
  {"data":{"name":"cb"},"mark":{"type":"area","color":"#0c0ce8","interpolate":"monotone","clip":true},
   "encoding":{"x":{"field":"x","type":"quantitative","axis":null},"y":{"field":"a","type":"quantitative","axis":null},"y2":{"field":"b"}}},
  {"data":{"name":"eb"},"mark":{"type":"rule","color":"#3a3ab8","strokeWidth":2.2,"opacity":0.85,"clip":true},
   "encoding":{"x":{"field":"x","type":"quantitative","axis":{"orient":"top","labels":false,"title":null,"values":[0,2,4,6,8,10]}},
    "y":{"field":"a","type":"quantitative","axis":{"orient":"right","labels":false,"title":null,"values":[-20,0,20]}},"y2":{"field":"b"}}}
 ],
 "resolve":{"axis":{"x":"independent","y":"independent"}}},
{"width":1305,"height":218,"title":"输入信号",
 "layer":[
  {"data":{"name":"ec"},"mark":{"type":"area","color":"#4040d0","opacity":0.42,"clip":true},
   "encoding":{"x":{"field":"x","type":"quantitative","scale":{"domain":[0,10],"nice":false,"zero":false},"axis":{"orient":"bottom","values":[0,2,4,6,8,10],"title":["采样点数/10³","(c) 外圈故障振动信号时域图"]}},
    "y":{"field":"a","type":"quantitative","scale":{"domain":[-5.35,7.15],"nice":false,"zero":false},"axis":{"orient":"left","values":[-5,0,5],"titleLineHeight":79,"title":["加速度","幅值/(m/s²)"]}},"y2":{"field":"b"}}},
  {"data":{"name":"cc"},"mark":{"type":"area","color":"#0c0ce8","interpolate":"monotone","clip":true},
   "encoding":{"x":{"field":"x","type":"quantitative","axis":null},"y":{"field":"a","type":"quantitative","axis":null},"y2":{"field":"b"}}},
  {"data":{"name":"ec"},"mark":{"type":"rule","color":"#3a3ab8","strokeWidth":2.2,"opacity":0.85,"clip":true},
   "encoding":{"x":{"field":"x","type":"quantitative","axis":{"orient":"top","labels":false,"title":null,"values":[0,2,4,6,8,10]}},
    "y":{"field":"a","type":"quantitative","axis":{"orient":"right","labels":false,"title":null,"values":[-5,0,5]}},"y2":{"field":"b"}}}
 ],
 "resolve":{"axis":{"x":"independent","y":"independent"}}},
{"width":1305,"height":218,"title":"最优输出信号 (T=74)",
 "layer":[
  {"data":{"name":"ed"},"mark":{"type":"area","color":"#3030d8","opacity":0.55,"clip":true},
   "encoding":{"x":{"field":"x","type":"quantitative","scale":{"domain":[0,10],"nice":false,"zero":false},"axis":{"orient":"bottom","values":[0,2,4,6,8,10],"title":["采样点数/10³","(d) FWA-MOMEDA处理后滚动体故障信号时域图"]}},
    "y":{"field":"a","type":"quantitative","scale":{"domain":[-5.35,7.8],"nice":false,"zero":false},"axis":{"orient":"left","values":[-5,0,5],"titleLineHeight":79,"title":["加速度","幅值/(m/s²)"]}},"y2":{"field":"b"}}},
  {"data":{"name":"cd"},"mark":{"type":"area","color":"#0c0ce8","interpolate":"monotone","clip":true},
   "encoding":{"x":{"field":"x","type":"quantitative","axis":null},"y":{"field":"a","type":"quantitative","axis":null},"y2":{"field":"b"}}},
  {"data":{"name":"ed"},"mark":{"type":"rule","color":"#3a3ab8","strokeWidth":2.2,"opacity":0.85,"clip":true},
   "encoding":{"x":{"field":"x","type":"quantitative","axis":{"orient":"top","labels":false,"title":null,"values":[0,2,4,6,8,10]}},
    "y":{"field":"a","type":"quantitative","axis":{"orient":"right","labels":false,"title":null,"values":[-5,0,5]}},"y2":{"field":"b"}}}
 ],
 "resolve":{"axis":{"x":"independent","y":"independent"}}},
{"width":1305,"height":218,"title":"最优输出信号 (T=79)",
 "layer":[
  {"data":{"name":"ee"},"mark":{"type":"area","color":"#2020e0","opacity":0.7,"clip":true},
   "encoding":{"x":{"field":"x","type":"quantitative","scale":{"domain":[0,10],"nice":false,"zero":false},"axis":{"orient":"bottom","values":[0,2,4,6,8,10],"title":["采样点数/10³","(e) FWA-MOMEDA处理后内圈故障信号时域图"]}},
    "y":{"field":"a","type":"quantitative","scale":{"domain":[-5.4,10.9],"nice":false,"zero":false},"axis":{"orient":"left","values":[-5,0,5,10],"titleLineHeight":79,"title":["加速度","幅值/(m/s²)"]}},"y2":{"field":"b"}}},
  {"data":{"name":"ce"},"mark":{"type":"area","color":"#0c0ce8","interpolate":"monotone","clip":true},
   "encoding":{"x":{"field":"x","type":"quantitative","axis":null},"y":{"field":"a","type":"quantitative","axis":null},"y2":{"field":"b"}}},
  {"data":{"name":"ee"},"mark":{"type":"rule","color":"#3a3ab8","strokeWidth":2.2,"opacity":0.85,"clip":true},
   "encoding":{"x":{"field":"x","type":"quantitative","axis":{"orient":"top","labels":false,"title":null,"values":[0,2,4,6,8,10]}},
    "y":{"field":"a","type":"quantitative","axis":{"orient":"right","labels":false,"title":null,"values":[-5,0,5,10]}},"y2":{"field":"b"}}}
 ],
 "resolve":{"axis":{"x":"independent","y":"independent"}}},
{"width":1305,"height":218,"title":"最优输出信号 (T=76)",
 "layer":[
  {"data":{"name":"ef"},"mark":{"type":"area","color":"#2020e0","opacity":0.7,"clip":true},
   "encoding":{"x":{"field":"x","type":"quantitative","scale":{"domain":[0,10],"nice":false,"zero":false},"axis":{"orient":"bottom","values":[0,2,4,6,8,10],"title":["采样点数/10³","(f) FWA-MOMEDA处理后外圈故障信号时域图"]}},
    "y":{"field":"a","type":"quantitative","scale":{"domain":[-8.1,14.1],"nice":false,"zero":false},"axis":{"orient":"left","values":[-5,0,5,10],"titleLineHeight":79,"title":["加速度","幅值/(m/s²)"]}},"y2":{"field":"b"}}},
  {"data":{"name":"cf"},"mark":{"type":"area","color":"#0c0ce8","interpolate":"monotone","clip":true},
   "encoding":{"x":{"field":"x","type":"quantitative","axis":null},"y":{"field":"a","type":"quantitative","axis":null},"y2":{"field":"b"}}},
  {"data":{"name":"ef"},"mark":{"type":"rule","color":"#3a3ab8","strokeWidth":2.2,"opacity":0.85,"clip":true},
   "encoding":{"x":{"field":"x","type":"quantitative","axis":{"orient":"top","labels":false,"title":null,"values":[0,2,4,6,8,10]}},
    "y":{"field":"a","type":"quantitative","axis":{"orient":"right","labels":false,"title":null,"values":[-5,0,5,10]}},"y2":{"field":"b"}}}
 ],
 "resolve":{"axis":{"x":"independent","y":"independent"}}}
],
"config":{
 "background":"white",
 "font":"Liberation Serif, Noto Sans CJK SC",
 "view":{"stroke":"black","strokeWidth":4},
 "axis":{"domain":false,"grid":false,"ticks":true,"tickSize":-15,"tickWidth":4,"tickColor":"black","labelFont":"Liberation Serif, Noto Sans CJK SC","labelFontSize":64,"labelColor":"black","labelFlush":false,"labelOverlap":false,"titleFont":"Liberation Serif, Noto Sans CJK SC","titleFontSize":68,"titleFontWeight":"normal","titleColor":"black"},
 "axisLeft":{"labelPadding":42,"titlePadding":48,"titleLineHeight":79,"titleFontSize":66},
 "axisBottom":{"labelPadding":49,"titlePadding":36,"titleLineHeight":101},
 "title":{"font":"Liberation Serif, Noto Sans CJK SC","fontSize":66,"fontWeight":"normal","color":"black","offset":-30}
}
}
